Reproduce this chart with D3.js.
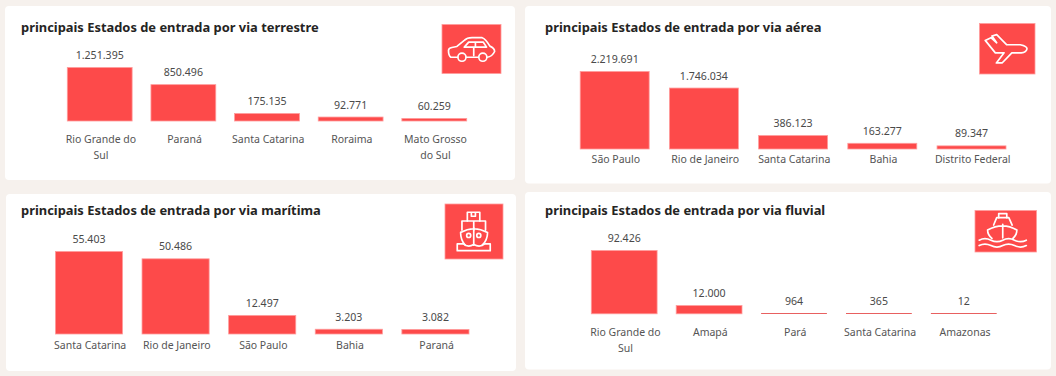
<!DOCTYPE html>
<html><head><meta charset="utf-8">
<script src="https://cdn.jsdelivr.net/npm/d3@7/dist/d3.min.js"></script>
<style>
html,body{margin:0;padding:0;background:#f6f1ed;overflow:hidden}
svg{display:block;font-family:"Noto Sans",sans-serif}
</style></head><body>
<svg id="c" width="1056" height="376"></svg>
<script>
const terrestreTitle = "principais Estados de entrada por via terrestre";
const terrestreStates = ["Rio Grande do Sul","Paraná","Santa Catarina","Roraima","Mato Grosso do Sul"];
const terrestreValues = [1251395,850496,175135,92771,60259];
const aereaTitle = "principais Estados de entrada por via aérea";
const aereaStates = ["São Paulo","Rio de Janeiro","Santa Catarina","Bahia","Distrito Federal"];
const aereaValues = [2219691,1746034,386123,163277,89347];
const maritimaTitle = "principais Estados de entrada por via marítima";
const maritimaStates = ["Santa Catarina","Rio de Janeiro","São Paulo","Bahia","Paraná"];
const maritimaValues = [55403,50486,12497,3203,3082];
const fluvialTitle = "principais Estados de entrada por via fluvial";
const fluvialStates = ["Rio Grande do Sul","Amapá","Pará","Santa Catarina","Amazonas"];
const fluvialValues = [92426,12000,964,365,12];

const icons = {
 car:{paths:["M1359,170H1339Q1332,165 1332,150Q1332,143 1342,141L1357,138L1379,120Q1387,112 1402,112H1432Q1442,115 1455,137Q1469,143 1469,153Q1462,168 1447,170M1385,170H1421","M1379,140L1392,125H1435L1445,140ZM1412,125V140M1407,140V165"],circles:[[1372,170,12],[1434,170,12]]},
 plane:{paths:["M1358,120L1375,112L1392,127L1378,107L1392,103L1422,133H1462Q1482,137 1482,145Q1480,155 1465,157H1437L1408,187H1391L1414,157H1388Z"],circles:[]},
 cargo:{paths:["M1388,98V72H1425V98M1400,72V84H1412V72","M1372,125V98H1442V125M1407,98V125","M1368,132Q1407,110 1448,132Q1448,155 1432,170M1382,170Q1368,155 1368,132M1407,118V170","M1358,186V166H1376Q1390,178 1407,168Q1425,178 1440,166H1456V186H1358Z"],circles:[[1392,141,6],[1422,141,6]]},
 boat:{paths:["M1398,88V76H1422V88","M1383,110L1392,88H1428L1438,110","M1378,150Q1365,140 1365,125Q1410,100 1452,125Q1452,140 1440,150M1410,108V148","M1340,155q17,-9 35,0t35,0t35,0t35,0","M1340,171q17,-9 35,0t35,0t35,0t35,0"],circles:[]}
};

const panels = [
 {title:terrestreTitle,states:terrestreStates,values:terrestreValues,ox:0,oy:0,box:[5,6,510,174],tx:21,ty:32,bars:[67.3,466.7],inner:.225,base:121,top:67.5,catY:143,icon:"car",ib:[442,24.5,59,49]},
 {title:aereaTitle,states:aereaStates,values:aereaValues,ox:528,oy:0,box:[525,6,526,177.5],tx:545,ty:32,bars:[580.2,1006],inner:.227,base:149,top:71.5,catY:163,icon:"plane",ib:[979.5,23.5,55.5,50.5]},
 {title:maritimaTitle,states:maritimaStates,values:maritimaValues,ox:0,oy:188,box:[6,194,510,177],tx:21,ty:215,bars:[55.4,469],inner:.225,base:334,top:251.5,catY:349,icon:"cargo",ib:[445,204,58,55]},
 {title:fluvialTitle,states:fluvialStates,values:fluvialValues,ox:528,oy:188,box:[525,192,526,177.5],tx:545,ty:215,bars:[591.3,996.7],inner:.225,base:313.8,top:250.5,catY:336,icon:"boat",ib:[975,210.5,61.5,41.5]}
];

const svg = d3.select("#c");
const fmt = d3.formatLocale({decimal:",",thousands:".",grouping:[3],currency:["",""]}).format(",d");
const RED="#fd4a4a", EDGE="#ff9c9c", THIN="#e86060";

panels.forEach(p=>{
  const g = svg.append("g");
  g.append("rect").attr("x",p.box[0]).attr("y",p.box[1]).attr("width",p.box[2]).attr("height",p.box[3]).attr("rx",4).attr("fill","#fff");
  g.append("text").attr("x",p.tx).attr("y",p.ty).attr("font-size",12.9).attr("font-weight",700).attr("fill","#252423").text(p.title);

  const x = d3.scaleBand().domain(p.states).range(p.bars).paddingInner(p.inner).paddingOuter(0);
  const y = d3.scaleLinear().domain([0,d3.max(p.values)]).range([p.base,p.top]);
  const thin = d => p.base-y(d) < 1.5;

  g.selectAll("rect.bar").data(p.values).join("rect").attr("class","bar")
    .attr("x",(d,i)=>x(p.states[i])).attr("width",x.bandwidth())
    .attr("y",d=>thin(d)?Math.floor(y(d)):y(d)).attr("height",d=>thin(d)?1:p.base-y(d))
    .attr("fill",d=>thin(d)?THIN:RED).attr("stroke",d=>thin(d)?"none":EDGE).attr("stroke-width",.8);

  g.selectAll("text.val").data(p.values).join("text").attr("class","val")
    .attr("x",(d,i)=>x(p.states[i])+x.bandwidth()/2).attr("y",d=>y(d)-8.5)
    .attr("text-anchor","middle").attr("font-size",10.6).attr("fill","#4a4a4a").text(d=>fmt(d));

  const axis = g.append("g").attr("transform",`translate(1.2,${p.catY-12})`).call(d3.axisBottom(x).tickSize(0).tickPadding(0));
  axis.select(".domain").remove();
  axis.selectAll("text").attr("font-size",10.5).attr("fill","#555").attr("font-family",'"Noto Sans",sans-serif').each(function(label){
    const t=d3.select(this); const words=label.split(" "); t.text(null).attr("y",0).attr("dy",null);
    let line=[], ts=t.append("tspan").attr("x",0).attr("y",12), n=0;
    words.forEach(w=>{
      line.push(w); ts.text(line.join(" "));
      if(ts.node().getComputedTextLength()>x.step()-7 && line.length>1){
        line.pop(); ts.text(line.join(" ")); line=[w]; n++;
        ts=t.append("tspan").attr("x",0).attr("y",12+n*15.5).text(w);
      }
    });
  });

  g.append("rect").attr("x",p.ib[0]).attr("y",p.ib[1]).attr("width",p.ib[2]).attr("height",p.ib[3]).attr("fill",RED).attr("stroke",EDGE).attr("stroke-width",.8);
  const ic = g.append("g").attr("transform",`translate(${p.ox},${p.oy}) scale(${1/2.97})`)
    .attr("fill","none").attr("stroke","#fff").attr("stroke-width",5).attr("stroke-linejoin","round").attr("stroke-linecap","round");
  icons[p.icon].paths.forEach(d=>ic.append("path").attr("d",d));
  icons[p.icon].circles.forEach(c=>ic.append("circle").attr("cx",c[0]).attr("cy",c[1]).attr("r",c[2]));
});
</script></body></html>
